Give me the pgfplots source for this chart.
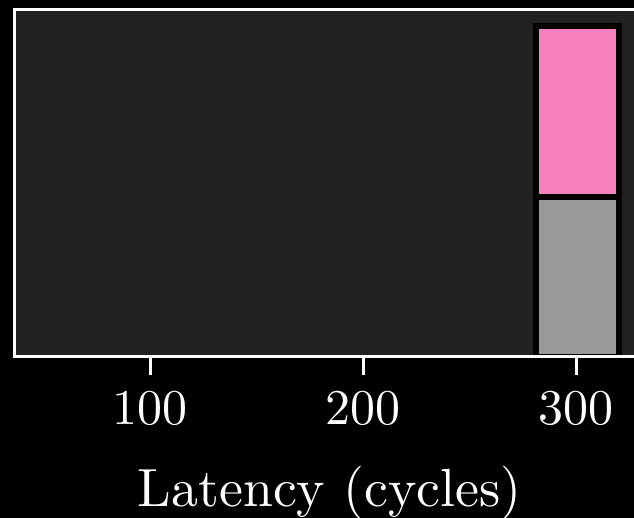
\documentclass[border=0pt]{standalone}
\usepackage{graphicx}
\usepackage{pgfplots}
\pgfplotsset{compat=1.18}
\definecolor{axbg}{HTML}{212121}
\definecolor{pinkc}{HTML}{F781BF}
\definecolor{grayc}{HTML}{999999}
\begin{document}
\begin{tikzpicture}
\fill[black] (-7.5pt,-80.5pt) rectangle (309.5pt,178.5pt);
\begin{axis}[
  at={(0pt,0pt)}, anchor=south west,
  scale only axis, width=314.6pt, height=173.5pt,
  xmin=36.6, xmax=332, ymin=0, ymax=347,
  axis background/.style={fill=axbg},
  axis line style={white, line width=1.5pt},
  ytick=\empty,
  xtick={100,200,300},
  xtick pos=bottom,
  tick align=outside,
  major tick length=9pt,
  tick style={white, line width=1.5pt},
  xticklabel={\scalebox{2.5}{$\pgfmathprintnumber{\tick}$}},
  xticklabel style={white, font=\fontsize{10}{12}\selectfont, anchor=base, yshift=-25pt},
  xlabel={\scalebox{2.69}{Latency (cycles)}},
  xlabel style={white, font=\fontsize{10}{12}\selectfont, at={(axis description cs:0.5,0)}, anchor=base, yshift=-75pt},
  ybar stacked, bar width=38.8,
  axis on top,
]
\addplot[fill=grayc, draw=black, line width=3pt] coordinates {(300.6,160)};
\addplot[fill=pinkc, draw=black, line width=3pt] coordinates {(300.6,171)};
\end{axis}
\pgfresetboundingbox
\useasboundingbox (-7.5pt,-80.5pt) rectangle (309.5pt,178.5pt);
\end{tikzpicture}
\end{document}
